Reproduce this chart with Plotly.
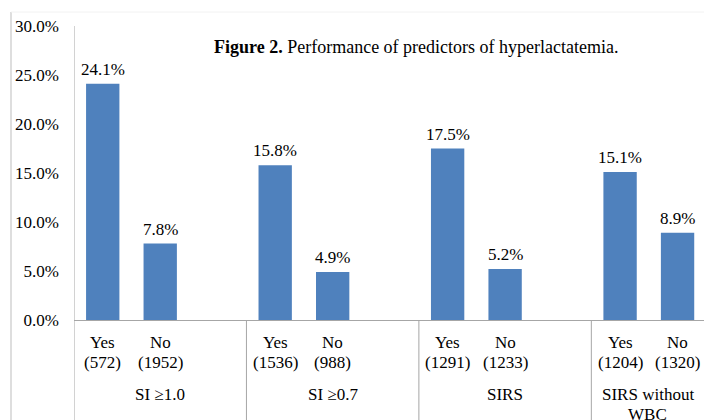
import plotly.graph_objects as go

groups = ["SI ≥1.0", "SI ≥0.7", "SIRS", "SIRS without\nWBC"]
answers = ["Yes", "No"]
counts = [[572, 1952], [1536, 988], [1291, 1233], [1204, 1320]]
values = [[24.1, 7.8], [15.8, 4.9], [17.5, 5.2], [15.1, 8.9]]
y_ticks = [0, 5, 10, 15, 20, 25, 30]

W, H = 704, 420
L, R, T, B = 74, 0, 26, 100
slots = 3
xmin, xmax = -0.5, 10.46
font = "Liberation Serif, Times New Roman, serif"
fs = 17
axis_col = "#A6A6A6"
bar_col = "#4F81BD"

plot_h = H - T - B
def py(px_from_top):
    # convert figure pixel y to paper y
    return (H - B - px_from_top) / plot_h

xs, ys = [], []
for gi, g in enumerate(groups):
    for ai, a in enumerate(answers):
        xs.append(gi * slots + ai)
        ys.append(values[gi][ai])

fig = go.Figure(go.Bar(x=xs, y=ys, width=0.58, marker_color=bar_col,
                       marker_line_width=0, hoverinfo="skip"))

ann = []
for gi, g in enumerate(groups):
    for ai, a in enumerate(answers):
        x = gi * slots + ai
        v = values[gi][ai]
        ann.append(dict(x=x, y=v, xref="x", yref="y", text=f"{v:.1f}%",
                        showarrow=False, yanchor="bottom", yshift=3,
                        font=dict(size=fs)))
        ann.append(dict(x=x, y=py(342), xref="x", yref="paper", text=a,
                        showarrow=False, yanchor="middle", font=dict(size=fs)))
        ann.append(dict(x=x, y=py(362), xref="x", yref="paper",
                        text=f"({counts[gi][ai]})", showarrow=False,
                        yanchor="middle", font=dict(size=fs)))
    g0 = gi * slots - 0.5
    g1 = min(g0 + slots, xmax)
    for li, line in enumerate(g.split("\n")):
        ann.append(dict(x=(g0 + g1) / 2, y=py(394 + 20 * li), xref="x",
                        yref="paper", text=line, showarrow=False,
                        yanchor="middle", align="center",
                        font=dict(size=fs)))

ann.append(dict(x=0.5, y=py(47), xref="paper", yref="paper",
                xanchor="center", yanchor="middle", showarrow=False,
                xshift=(416 - (L + (W - L - R) / 2)),
                text="<b>Figure 2.</b> Performance of predictors of hyperlactatemia.",
                font=dict(size=18)))

shapes = []
for gi in range(len(groups)):
    xv = gi * slots - 0.5
    shapes.append(dict(type="line", xref="x", yref="paper", x0=xv, x1=xv,
                       y0=py(H), y1=1 if gi == 0 else 0,
                       line=dict(color=axis_col, width=1)))
# outer frame of the source image
fx = (11 - L) / (W - L - R)
shapes.append(dict(type="line", xref="paper", yref="paper", x0=fx, x1=fx,
                   y0=py(H), y1=py(12), line=dict(color="#BDBDBD", width=1)))
shapes.append(dict(type="line", xref="paper", yref="paper", x0=fx, x1=1,
                   y0=py(12), y1=py(12), line=dict(color="#F2F2F2", width=1)))

fig.update_layout(
    width=W, height=H, margin=dict(l=L, r=R, t=T, b=B),
    paper_bgcolor="white", plot_bgcolor="white",
    font=dict(family=font, size=fs, color="black"),
    showlegend=False, annotations=ann, shapes=shapes,
    xaxis=dict(range=[xmin, xmax], showticklabels=False, showgrid=False,
               zeroline=False, showline=True, linecolor=axis_col, linewidth=1,
               ticks=""),
    yaxis=dict(range=[0, 30], tickvals=y_ticks,
               ticktext=[f"{t:.1f}%" for t in y_ticks], showgrid=False,
               zeroline=False, showline=False, ticks="",
               ticklabelstandoff=14, tickfont=dict(size=fs)),
)

fig.write_html("out.html", config={"displayModeBar": False},
               post_script="document.body.style.margin='0';document.body.style.overflow='hidden';")
